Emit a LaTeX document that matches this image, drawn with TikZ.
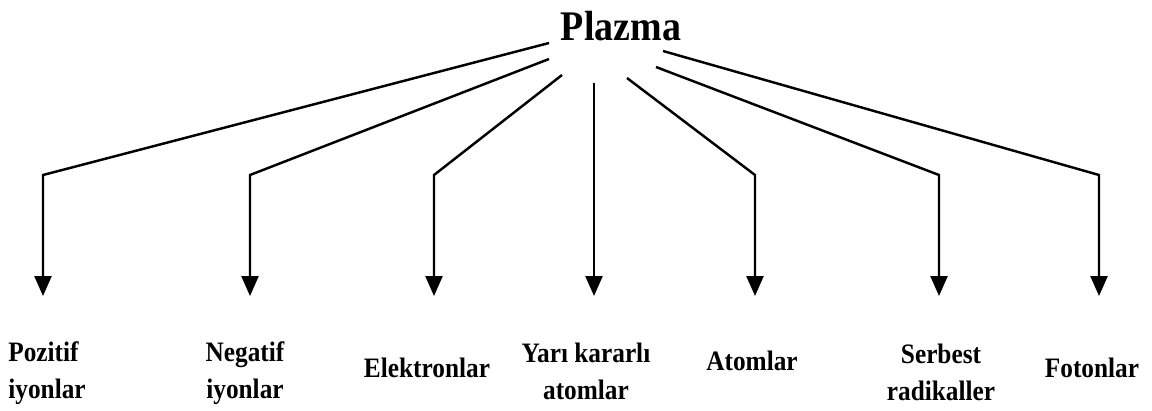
\documentclass[tikz,border=0pt]{standalone}
\usepackage{fontspec}
\setmainfont{Liberation Serif}[FakeStretch=0.9]
\usetikzlibrary{arrows.meta}

\tikzset{
  branch/.style={line width=1.4pt, -{Triangle[length=0.4cm,width=0.34cm]}},
  leaf/.style={font=\fontsize{16}{20.5}\selectfont\bfseries, inner sep=0pt},
}

\begin{document}
\begin{tikzpicture}[x=0.02cm,y=-0.02cm]
  \useasboundingbox (0,0) rectangle (1152,410);

  \node[anchor=base, inner sep=0pt, font=\fontsize{24}{28}\selectfont\bfseries] (plazma) at (621,40) {Plazma};

  % the leaves
  \node[leaf, anchor=base west, align=left] (pozitif) at (8,398) {Pozitif\\iyonlar};
  \node[leaf, anchor=base, align=center] (negatif) at (245,398) {Negatif\\iyonlar};
  \node[leaf, anchor=base] (elektron) at (427,377) {Elektronlar};
  \node[leaf, anchor=base, align=center] (yari) at (586,399) {Yarı kararlı\\atomlar};
  \node[leaf, anchor=base] (atom) at (752,370) {Atomlar};
  \node[leaf, anchor=base, align=center] (serbest) at (941,400) {Serbest\\radikaller};
  \node[leaf, anchor=base] (foton) at (1092,377) {Fotonlar};

  % branches from Plazma down to the leaves
  \foreach \n/\sx/\sy/\x in {poz/549/43/43, neg/549/59/250, ele/562/75/434,
                             atm/627/78/755, ser/656/67/939, fot/663/51/1099} {
    \coordinate (s-\n) at (\sx,\sy);
    \coordinate (b-\n) at (\x,175);
    \coordinate (t-\n) at (\x,296);
    \draw[branch] (s-\n) -- (b-\n) -- (t-\n);
  }
  \coordinate (s-yar) at (594,83);
  \coordinate (t-yar) at (594,296);
  \draw[branch] (s-yar) -- (t-yar);
\end{tikzpicture}
\end{document}
